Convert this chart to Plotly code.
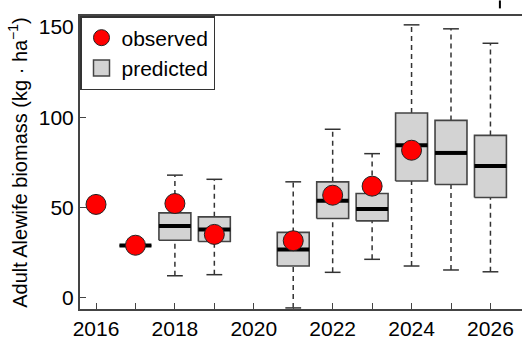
import plotly.graph_objects as go

# ---- data ----
obs_years = [2016, 2017, 2018, 2019, 2021, 2022, 2023, 2024]
obs_vals = [51.8, 29.2, 52.3, 35.2, 31.7, 56.9, 61.9, 81.8]

pred_years = [2017, 2018, 2019, 2021, 2022, 2023, 2024, 2025, 2026]
pred_low = [29.0, 12.3, 12.9, -5.5, 14.2, 21.4, 17.7, 15.5, 14.5]
pred_q1 = [29.0, 32.0, 31.3, 17.7, 44.0, 42.7, 64.8, 62.8, 55.6]
pred_med = [29.0, 39.8, 37.9, 26.9, 53.8, 49.2, 84.5, 80.3, 73.1]
pred_q3 = [29.0, 47.1, 44.9, 36.3, 64.3, 57.8, 102.4, 98.3, 90.0]
pred_high = [29.0, 68.0, 65.7, 64.3, 93.4, 79.9, 151.2, 149.0, 141.0]

x_ticks = list(range(2016, 2027))
x_labels = [str(y) if y % 2 == 0 else " " for y in x_ticks]
y_ticks = [0, 50, 100, 150]

# ---- styling ----
BOX_HW = 0.405
CAP_HW = 0.2
FONT = "Liberation Sans, Arial, Helvetica, sans-serif"
AX = "#444444"

# build segment lists from the data
wx, wy, cx, cy, bx, by, mx, my = [], [], [], [], [], [], [], []
for x, lo, a, m, b, hi in zip(pred_years, pred_low, pred_q1, pred_med, pred_q3, pred_high):
    wx += [x, x, None, x, x, None]
    wy += [lo, a, None, b, hi, None]
    cx += [x - CAP_HW, x + CAP_HW, None, x - CAP_HW, x + CAP_HW, None]
    cy += [lo, lo, None, hi, hi, None]
    bx += [x - BOX_HW, x + BOX_HW, x + BOX_HW, x - BOX_HW, x - BOX_HW, None]
    by += [a, a, b, b, a, None]
    mx += [x - BOX_HW, x + BOX_HW, None]
    my += [m, m, None]

fig = go.Figure()
fig.add_trace(go.Scatter(x=wx, y=wy, mode="lines", showlegend=False, hoverinfo="skip",
                         line=dict(color="#333333", width=1.5, dash="5px,4px")))
fig.add_trace(go.Scatter(x=cx, y=cy, mode="lines", showlegend=False, hoverinfo="skip",
                         line=dict(color="#333333", width=1.5)))
fig.add_trace(go.Scatter(x=bx, y=by, mode="lines", fill="toself", fillcolor="#D3D3D3",
                         showlegend=False, hoverinfo="skip",
                         line=dict(color="#444444", width=1.6)))
fig.add_trace(go.Scatter(x=mx, y=my, mode="lines", showlegend=False, hoverinfo="skip",
                         line=dict(color="black", width=4)))
fig.add_trace(go.Scatter(x=obs_years, y=obs_vals, mode="markers", name="observed",
                         marker=dict(size=20, color="#FF0000", line=dict(color="#222222", width=1))))
fig.add_trace(go.Scatter(x=[None], y=[None], mode="markers", name="predicted",
                         marker=dict(size=17, symbol="square", color="#D3D3D3",
                                     line=dict(color="#444444", width=1.5))))

fig.update_layout(
    width=522, height=341,
    margin=dict(l=80, r=0, t=15.5, b=32, autoexpand=False),
    paper_bgcolor="white", plot_bgcolor="white",
    font=dict(family=FONT, size=21, color="black"),
    showlegend=True,
    legend=dict(x=0, y=1, xanchor="left", yanchor="top",
                bordercolor="#333333", borderwidth=1.5, bgcolor="white",
                font=dict(size=21), tracegroupgap=0),
    xaxis=dict(range=[2015.594, 2026.8], tickvals=x_ticks, ticktext=x_labels,
               ticks="inside", ticklen=6, tickwidth=1.2, tickcolor=AX,
               showline=True, linecolor=AX, linewidth=2, mirror=True,
               showgrid=False, zeroline=False, automargin=False,
               ticklabelstandoff=0),
    yaxis=dict(range=[-6.1, 156.1], tickvals=y_ticks,
               ticks="inside", ticklen=6, tickwidth=1.2, tickcolor=AX,
               showline=True, linecolor=AX, linewidth=2,
               showgrid=False, zeroline=False, automargin=False,
               title=dict(text="Adult Alewife biomass (kg \u00b7 ha<sup>\u22121</sup>)",
                          font=dict(size=20), standoff=6)),
    shapes=[dict(type="line", xref="paper", yref="paper", x0=0.95, x1=0.95,
                 y0=1.026, y1=1.053, line=dict(color="black", width=2))],
)

fig.write_html("out.html", config={"displayModeBar": False},
               post_script="document.body.style.margin='0';document.body.style.overflow='hidden';")
